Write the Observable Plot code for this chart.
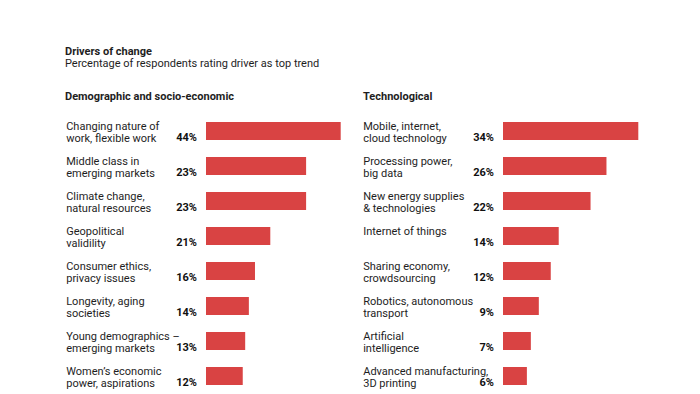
<!DOCTYPE html>
<html>
<head>
<meta charset="utf-8">
<script src="https://cdn.jsdelivr.net/npm/d3@7"></script>
<script src="https://cdn.jsdelivr.net/npm/@observablehq/plot@0.6"></script>
<style>
  html, body { margin: 0; padding: 0; background: #fff; overflow: hidden; }
  #wrap { position: relative; width: 700px; height: 394px; background: #fff; font-family: Roboto, "Noto Sans", sans-serif; color: #1e1e1e; }
  .txt { position: absolute; font-size: 11px; line-height: 11px; white-space: nowrap; }
  .b { font-weight: 700; }
  .panel { position: absolute; top: 0; }
</style>
</head>
<body>
<div id="wrap">
  <div class="txt b" style="left:65px;top:46px">Drivers of change</div>
  <div class="txt" style="left:65px;top:58px">Percentage of respondents rating driver as top trend</div>
  <div class="txt b" style="left:65px;top:90.5px">Demographic and socio-economic</div>
  <div class="txt b" style="left:363px;top:90.5px">Technological</div>
  <div id="left" class="panel" style="left:0px"></div>
  <div id="right" class="panel" style="left:350px"></div>
</div>
<script>
// Demographic and socio-economic
const demoLabels = [
  "Changing nature of\nwork, flexible work",
  "Middle class in\nemerging markets",
  "Climate change,\nnatural resources",
  "Geopolitical\nvalidility",
  "Consumer ethics,\nprivacy issues",
  "Longevity, aging\nsocieties",
  "Young demographics –\nemerging markets",
  "Women’s economic\npower, aspirations"
];
const demoShown = ["44%", "23%", "23%", "21%", "16%", "14%", "13%", "12%"];
// bar lengths as drawn in the picture
const demoBars = [44, 32.7, 32.7, 21, 16, 14, 12.8, 12];

// Technological
const techLabels = [
  "Mobile, internet,\ncloud technology",
  "Processing power,\nbig data",
  "New energy supplies\n& technologies",
  "Internet of things",
  "Sharing economy,\ncrowdsourcing",
  "Robotics, autonomous\ntransport",
  "Artificial\nintelligence",
  "Advanced manufacturing,\n3D printing"
];
const techShown = ["34%", "26%", "22%", "14%", "12%", "9%", "7%", "6%"];
const techBars = [34, 26, 22, 14, 12, 9, 7, 6];

const RED = "#d94343";
const FONT = "Roboto, 'Noto Sans', sans-serif";

function panel(labels, shown, bars, xmax, marginLeft, marginRight) {
  const data = labels.map((l, i) => ({label: l, shown: shown[i], value: bars[i]}));
  return Plot.plot({
    width: 350,
    height: 394,
    marginTop: 111.75,
    marginBottom: 0,
    marginLeft,
    marginRight,
    style: {fontFamily: FONT, background: "transparent", color: "#1e1e1e"},
    x: {domain: [0, xmax], axis: null},
    y: {domain: labels, axis: null, paddingInner: 0.5, paddingOuter: 0.203},
    marks: [
      Plot.barX(data, {x: "value", y: "label", fill: RED}),
      Plot.text(data, {
        y: "label", text: "label", frameAnchor: "left", textAnchor: "start",
        lineAnchor: "top", dx: -140.3, dy: -10.5, fontSize: 11, lineHeight: 1.1, fill: "#1e1e1e"
      }),
      Plot.text(data, {
        x: 0, y: "label", text: "shown", textAnchor: "end", lineAnchor: "bottom",
        dx: -9.5, dy: 9.5, fontSize: 11, fontWeight: 700, fill: "#111"
      })
    ]
  });
}

document.getElementById("left").appendChild(panel(demoLabels, demoShown, demoBars, 44, 206, 9.3));
document.getElementById("right").appendChild(panel(techLabels, techShown, techBars, 34, 153, 61.7));
</script>
</body>
</html>
